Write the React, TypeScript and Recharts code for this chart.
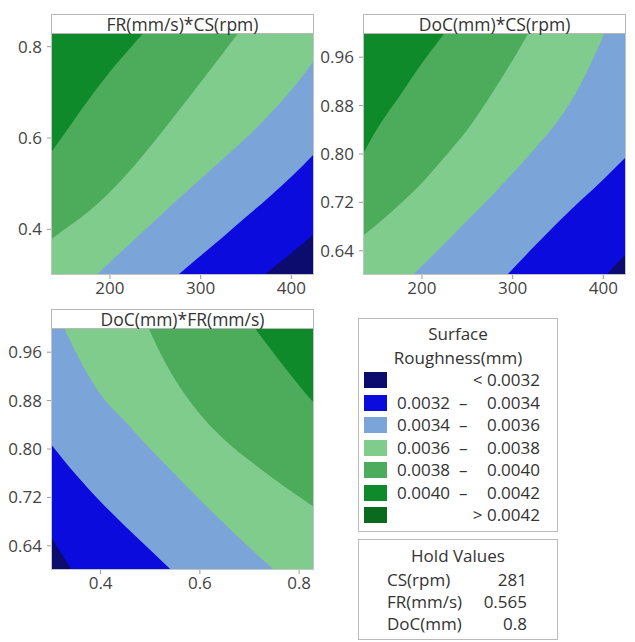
import React from "react";
import { AreaChart, Area, XAxis, YAxis } from "recharts";

// ---------- colours of the contour bands ----------
const NAVY = "#0c0c6e";
const BLUE = "#0b0bdd";
const LIGHT_BLUE = "#7ba4d9";
const LIGHT_GREEN = "#80cc8d";
const MID_GREEN = "#4dac5b";
const GREEN = "#0f8a2a";
const DARK_GREEN = "#0a6a1e";

// ---------- panel 1 : FR(mm/s) vs CS(rpm) ----------
const CS = [135, 150, 175, 200, 225, 250, 275, 300, 325, 350, 375, 400, 425];
const P1_A = [0.568, 0.61, 0.68, 0.745, 0.803, 0.858, 0.91, 0.96, 1.01, 1.06, 1.11, 1.16, 1.21];
const P1_B = [0.378, 0.4, 0.437, 0.482, 0.535, 0.595, 0.658, 0.722, 0.787, 0.852, 0.917, 0.982, 1.047];
const P1_C = [0.21, 0.236, 0.282, 0.328, 0.374, 0.42, 0.466, 0.51, 0.555, 0.6, 0.65, 0.705, 0.77];
const P1_D = [0.065, 0.09, 0.132, 0.174, 0.216, 0.258, 0.3, 0.342, 0.384, 0.427, 0.47, 0.515, 0.565];
const P1_E = [0.0, 0.02, 0.05, 0.08, 0.11, 0.14, 0.17, 0.2, 0.232, 0.268, 0.308, 0.348, 0.39];

// ---------- panel 2 : DoC(mm) vs CS(rpm) ----------
const P2_A = [0.8, 0.84, 0.895, 0.95, 1.0, 1.05, 1.1, 1.15, 1.2, 1.25, 1.3, 1.35, 1.4];
const P2_B = [0.665, 0.683, 0.716, 0.752, 0.795, 0.84, 0.895, 0.955, 1.02, 1.09, 1.16, 1.23, 1.3];
const P2_C = [0.525, 0.545, 0.578, 0.615, 0.652, 0.69, 0.728, 0.768, 0.81, 0.855, 0.915, 0.995, 1.08];
const P2_D = [0.41, 0.43, 0.45, 0.47, 0.5, 0.535, 0.572, 0.61, 0.649, 0.687, 0.723, 0.758, 0.795];
const P2_E = [0.3, 0.32, 0.35, 0.38, 0.41, 0.44, 0.47, 0.5, 0.52, 0.54, 0.557, 0.595, 0.635];

// ---------- panel 3 : DoC(mm) vs FR(mm/s) ----------
const FR = [0.3, 0.35, 0.4, 0.45, 0.5, 0.55, 0.6, 0.65, 0.7, 0.75, 0.8, 0.85];
const P3_A = [1.55, 1.47, 1.39, 1.32, 1.25, 1.19, 1.13, 1.07, 1.012, 0.957, 0.905, 0.857];
const P3_B = [1.45, 1.33, 1.22, 1.1, 0.994, 0.915, 0.858, 0.815, 0.781, 0.75, 0.721, 0.693];
const P3_C = [1.05, 0.96, 0.89, 0.845, 0.8, 0.758, 0.716, 0.676, 0.637, 0.6, 0.563, 0.527];
const P3_D = [0.808, 0.758, 0.713, 0.672, 0.633, 0.594, 0.556, 0.518, 0.48, 0.443, 0.406, 0.37];
const P3_E = [0.655, 0.59, 0.53, 0.47, 0.41, 0.35, 0.29, 0.23, 0.17, 0.11, 0.05, 0.0];

// ---------- legend + hold values ----------
const LEGEND_COLORS = [NAVY, BLUE, LIGHT_BLUE, LIGHT_GREEN, MID_GREEN, GREEN, DARK_GREEN];
const LEGEND_LOW = ["", "0.0032", "0.0034", "0.0036", "0.0038", "0.0040", ""];
const LEGEND_HIGH = ["< 0.0032", "0.0034", "0.0036", "0.0038", "0.0040", "0.0042", "> 0.0042"];
const HOLD_NAMES = ["CS(rpm)", "FR(mm/s)", "DoC(mm)"];
const HOLD_VALUES = ["281", "0.565", "0.8"];

const FONT = "'Open Sans', sans-serif";
const TEXT = "#333";

function buildRows(xs: number[], key: string, curves: number[][]) {
  return xs.map((x, i) => {
    const row: any = { [key]: x };
    curves.forEach((c, j) => (row["b" + j] = c[i]));
    return row;
  });
}

const p1Data = buildRows(CS, "cs", [P1_A, P1_B, P1_C, P1_D, P1_E]);
const p2Data = buildRows(CS, "cs", [P2_A, P2_B, P2_C, P2_D, P2_E]);
const p3Data = buildRows(FR, "fr", [P3_A, P3_B, P3_C, P3_D, P3_E]);

// painted from the top band down, each one under its boundary curve
const BAND_FILLS = [MID_GREEN, LIGHT_GREEN, LIGHT_BLUE, BLUE, NAVY];

const PLOT_W = 263;
const PLOT_H = 242;

function ContourPanel({
  plotLeft,
  plotTop,
  title,
  data,
  xKey,
  xDomain,
  yDomain,
  xTicks,
  yTicks,
  yFmt,
}: any) {
  const tick = { fill: "#444", fontSize: 17, fontFamily: FONT };
  return (
    <>
      <div
        style={{
          position: "absolute",
          left: plotLeft,
          top: plotTop,
          width: PLOT_W,
          height: PLOT_H,
          background: GREEN,
        }}
      />
      <div style={{ position: "absolute", left: plotLeft - 51, top: plotTop - 33 }}>
        <AreaChart
          width={320}
          height={305}
          data={data}
          margin={{ top: 33, right: 6, left: 6, bottom: 0 }}
        >
          <XAxis
            dataKey={xKey}
            type="number"
            domain={xDomain}
            allowDataOverflow
            ticks={xTicks}
            tick={tick}
            tickSize={4}
            tickMargin={3}
            axisLine={false}
            tickLine={{ stroke: "#999" }}
            height={30}
          />
          <YAxis
            type="number"
            domain={yDomain}
            allowDataOverflow
            ticks={yTicks}
            tickFormatter={yFmt}
            tick={tick}
            tickSize={4}
            tickMargin={5}
            axisLine={false}
            tickLine={{ stroke: "#999" }}
            width={45}
          />
          {BAND_FILLS.map((fill, j) => (
            <Area
              key={j}
              type="monotone"
              dataKey={"b" + j}
              baseValue="dataMin"
              fill={fill}
              fillOpacity={1}
              stroke="none"
              dot={false}
              activeDot={false}
              isAnimationActive={false}
            />
          ))}
        </AreaChart>
      </div>
      <div
        style={{
          position: "absolute",
          left: plotLeft,
          top: plotTop,
          width: PLOT_W,
          height: PLOT_H,
          border: "1px solid #c4c4c4",
          boxSizing: "border-box",
        }}
      />
      <div
        style={{
          position: "absolute",
          left: plotLeft,
          top: plotTop - 19,
          width: PLOT_W,
          height: 20,
          border: "1px solid #b8b8b8",
          boxSizing: "border-box",
          background: "#fff",
          textAlign: "center",
          fontSize: 17.5,
          lineHeight: "18px",
          color: TEXT,
          fontFamily: FONT,
        }}
      >
        {title}
      </div>
    </>
  );
}

function LegendBox() {
  const rowTop = 370;
  const rowStep = 22.5;
  return (
    <>
      <div
        style={{
          position: "absolute",
          left: 358,
          top: 318,
          width: 200,
          height: 214,
          border: "1px solid #bbb",
          boxSizing: "border-box",
          fontFamily: FONT,
          color: TEXT,
        }}
      >
        <div style={{ position: "absolute", top: 3, width: "100%", textAlign: "center", fontSize: 17, lineHeight: "24px" }}>
          Surface
          <br />
          Roughness(mm)
        </div>
      </div>
      {LEGEND_COLORS.map((c, i) => {
        const top = rowTop + i * rowStep;
        return (
          <React.Fragment key={i}>
            <div
              style={{
                position: "absolute",
                left: 364,
                top: top + 2,
                width: 23,
                height: 16,
                background: c,
              }}
            />
            {LEGEND_LOW[i] && (
              <div style={{ position: "absolute", left: 397, top, fontSize: 17, lineHeight: "20px", fontFamily: FONT, color: TEXT }}>
                {LEGEND_LOW[i]}
              </div>
            )}
            {LEGEND_LOW[i] && (
              <div style={{ position: "absolute", left: 459, top, fontSize: 17, lineHeight: "20px", fontFamily: FONT, color: TEXT }}>
                –
              </div>
            )}
            <div
              style={{
                position: "absolute",
                left: 440,
                width: 100,
                textAlign: "right",
                top,
                fontSize: 17,
                lineHeight: "20px",
                fontFamily: FONT,
                color: TEXT,
              }}
            >
              {LEGEND_HIGH[i]}
            </div>
          </React.Fragment>
        );
      })}
      <div
        style={{
          position: "absolute",
          left: 358,
          top: 539,
          width: 200,
          height: 101,
          border: "1px solid #bbb",
          boxSizing: "border-box",
          fontFamily: FONT,
          color: TEXT,
        }}
      >
        <div style={{ position: "absolute", top: 5, width: "100%", textAlign: "center", fontSize: 17, lineHeight: "22px" }}>
          Hold Values
        </div>
        {HOLD_NAMES.map((n, i) => (
          <React.Fragment key={n}>
            <div style={{ position: "absolute", left: 28, top: 29 + i * 22, fontSize: 17, lineHeight: "22px" }}>{n}</div>
            <div style={{ position: "absolute", right: 30, top: 29 + i * 22, fontSize: 17, lineHeight: "22px", textAlign: "right" }}>
              {HOLD_VALUES[i]}
            </div>
          </React.Fragment>
        ))}
      </div>
    </>
  );
}

export default function App() {
  const two = (v: number) => v.toFixed(2);
  const one = (v: number) => String(v);
  return (
    <div
      style={{
        position: "absolute",
        left: 0,
        top: 0,
        width: 635,
        height: 642,
        background: "#fff",
        overflow: "hidden",
        fontFamily: FONT,
      }}
    >
      <ContourPanel
        plotLeft={51}
        plotTop={33}
        title="FR(mm/s)*CS(rpm)"
        data={p1Data}
        xKey="cs"
        xDomain={[135, 425]}
        yDomain={[0.3, 0.83]}
        xTicks={[200, 300, 400]}
        yTicks={[0.4, 0.6, 0.8]}
        yFmt={one}
      />
      <ContourPanel
        plotLeft={363}
        plotTop={33}
        title="DoC(mm)*CS(rpm)"
        data={p2Data}
        xKey="cs"
        xDomain={[135, 425]}
        yDomain={[0.6, 1.0]}
        xTicks={[200, 300, 400]}
        yTicks={[0.64, 0.72, 0.8, 0.88, 0.96]}
        yFmt={two}
      />
      <ContourPanel
        plotLeft={51}
        plotTop={328}
        title="DoC(mm)*FR(mm/s)"
        data={p3Data}
        xKey="fr"
        xDomain={[0.3, 0.83]}
        yDomain={[0.6, 1.0]}
        xTicks={[0.4, 0.6, 0.8]}
        yTicks={[0.64, 0.72, 0.8, 0.88, 0.96]}
        yFmt={two}
      />
      <LegendBox />
    </div>
  );
}
